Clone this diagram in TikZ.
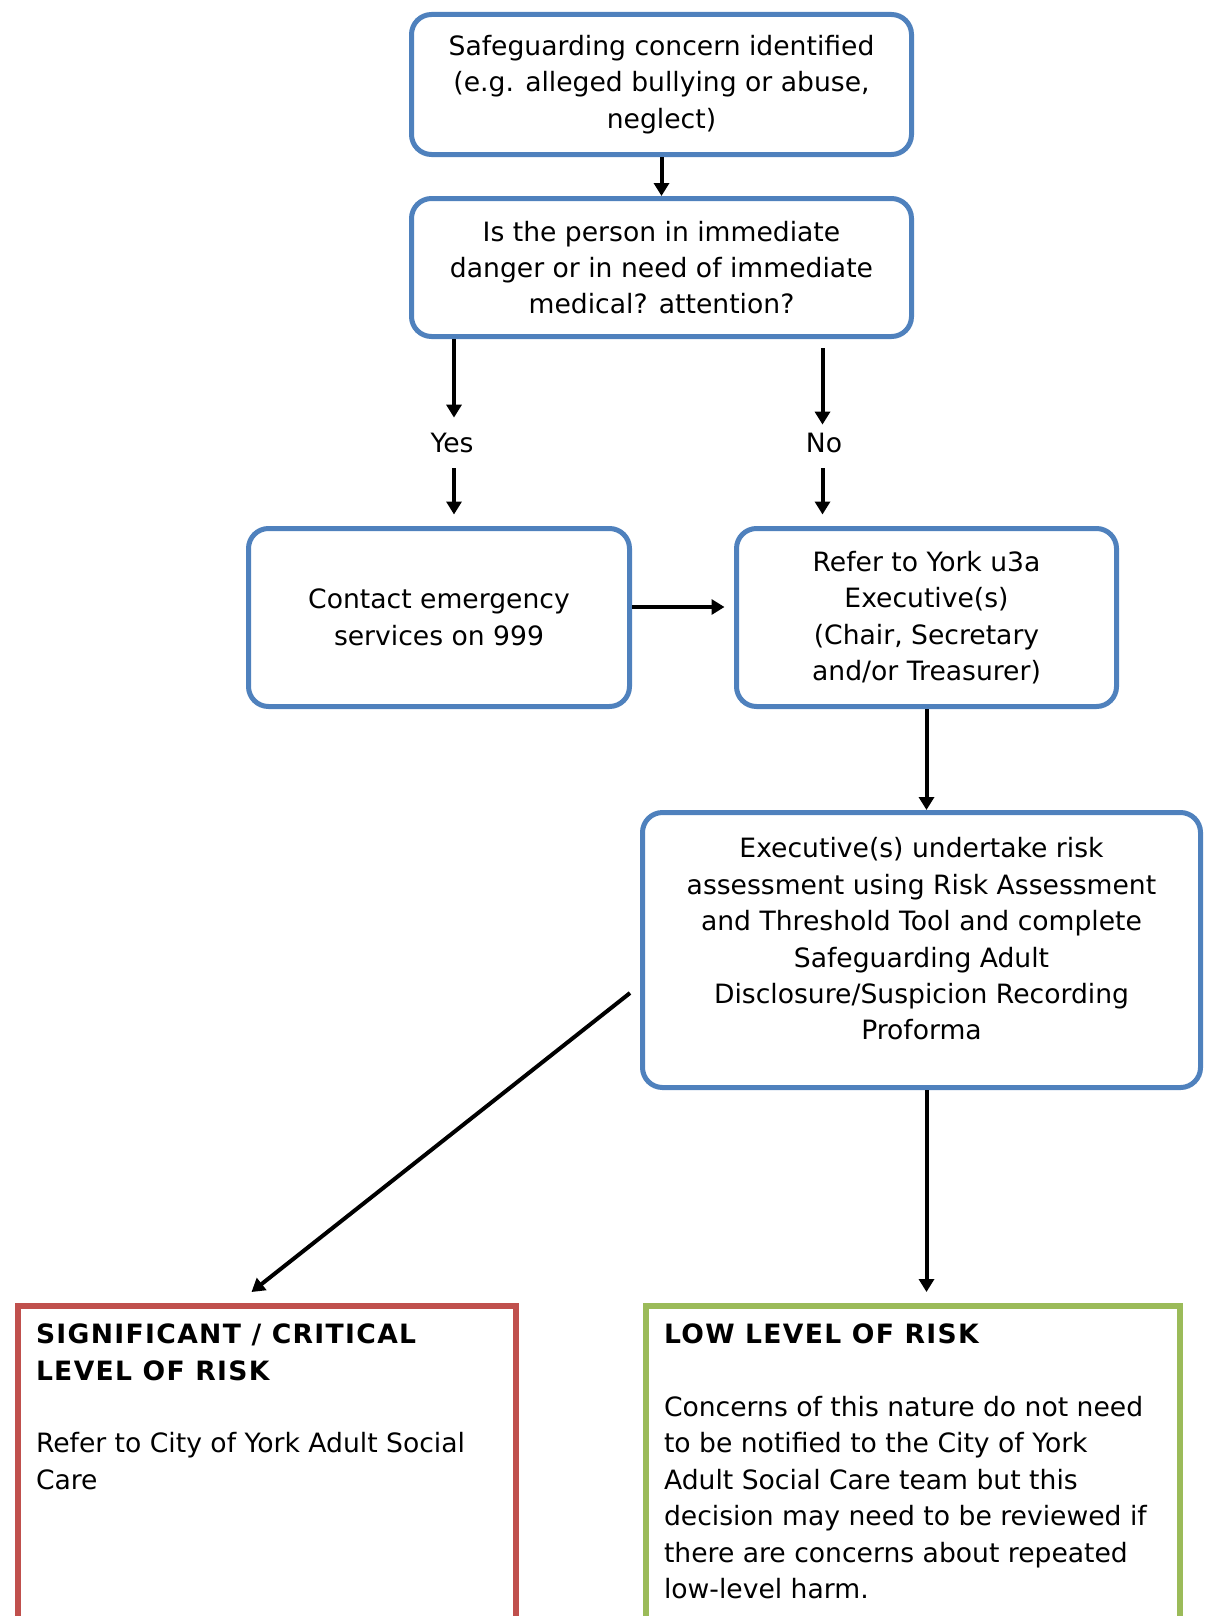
\documentclass[tikz,border=0pt]{standalone}
\usepackage{fontspec}
\setmainfont{DejaVu Sans}
\usepackage{tikz}
\usetikzlibrary{arrows.meta,positioning}

\definecolor{boxblue}{HTML}{4F81BD}
\definecolor{riskred}{HTML}{C0504D}
\definecolor{riskgreen}{HTML}{9BBB59}
\newcommand{\riskhead}[1]{{\bfseries\addfontfeature{LetterSpace=5}#1}}

\begin{document}
\begin{tikzpicture}[x=0.5pt,y=-0.5pt,
		txt/.style={font=\fontsize{13.3}{18.2}\selectfont},
		stepbox/.style={txt,draw=boxblue,line width=2.5pt,rounded corners=10pt,
			align=center,inner sep=0pt},
		riskbox/.style={txt,draw=#1,line width=3pt,anchor=north west,inner sep=9pt},
		arr/.style={-{Triangle[length=6.5pt,width=7.5pt]},line width=2pt}]
		\clip (0,0) rectangle (1206,1616);
		% Ablauf oben
		\node[stepbox,minimum width=250pt,minimum height=70pt] (concern) at (661.5,84.5)
			{Safeguarding concern identified\\(e.g. alleged bullying or abuse,\\neglect)};
		\node[stepbox,minimum width=250pt,minimum height=69pt] (danger) at (661.5,267.5)
			{Is the person in immediate\\danger or in need of immediate\\medical? attention?};
		\node[txt,inner sep=0pt,minimum height=25pt] (yes) at (452,443) {Yes};
		\node[txt,inner sep=0pt,minimum height=25pt] (no) at (824,443) {No};
		\node[stepbox,minimum width=190.5pt,minimum height=89pt] (emergency) at (439,617.5)
			{Contact emergency\\services on 999};
		\node[stepbox,minimum width=190pt,minimum height=89pt] (exec) at (926.5,617.5)
			{Refer to York u3a\\Executive(s)\\(Chair, Secretary\\and/or Treasurer)};
		\node[stepbox,minimum width=279pt,minimum height=137.5pt] (assess) at (921.5,950)
			{Executive(s) undertake risk\\assessment using Risk Assessment\\and Threshold Tool and complete\\Safeguarding Adult\\Disclosure/Suspicion Recording\\Proforma\\[-7pt]\mbox{}};
		% Risikostufen
		\node[riskbox=riskred] (critical) at (15,1303)
			{\parbox[c][180.5pt][t]{231pt}{\raggedright
				\riskhead{SIGNIFICANT / CRITICAL}\\\riskhead{LEVEL OF RISK}\\[18.2pt]
				Refer to City of York Adult Social\\Care}};
		\node[riskbox=riskgreen] (low) at (643,1303)
			{\parbox[c][180.5pt][t]{249pt}{\raggedright
				\riskhead{LOW LEVEL OF RISK}\\[18.2pt]
				Concerns of this nature do not need\\to be notified to the City of York\\Adult Social Care team but this\\decision may need to be reviewed if\\there are concerns about repeated\\low-level harm.}};
		% Pfeile
		\draw[arr] (concern) -- (danger);
		\draw[arr] (danger.south -| emergency.north) ++(7.5pt,0) coordinate (yestop) -- (yestop |- yes.north);
		\draw[arr,shorten >=5.75pt] (yestop |- yes.south) -- (yestop |- emergency.north);
		\draw[arr,shorten <=4.5pt,shorten >=-3.5pt] (danger.south -| exec.north) ++(-52pt,0) coordinate (notop) -- (notop |- no.north);
		\draw[arr,shorten >=5.75pt] (notop |- no.south) -- (notop |- exec.north);
		\draw[arr,shorten >=4.75pt] ([yshift=5.25pt]emergency.east) -- ([yshift=5.25pt]exec.west);
		\draw[arr] (exec) -- (exec |- assess.north);
		\draw[arr] ([xshift=-5pt,yshift=-21.5pt]assess.west) -- ([xshift=-7.75pt,yshift=5.5pt]critical.north);
		\draw[arr,shorten >=5.5pt] (assess.south -| exec) -- (low.north -| exec);
	\end{tikzpicture}
\end{document}
